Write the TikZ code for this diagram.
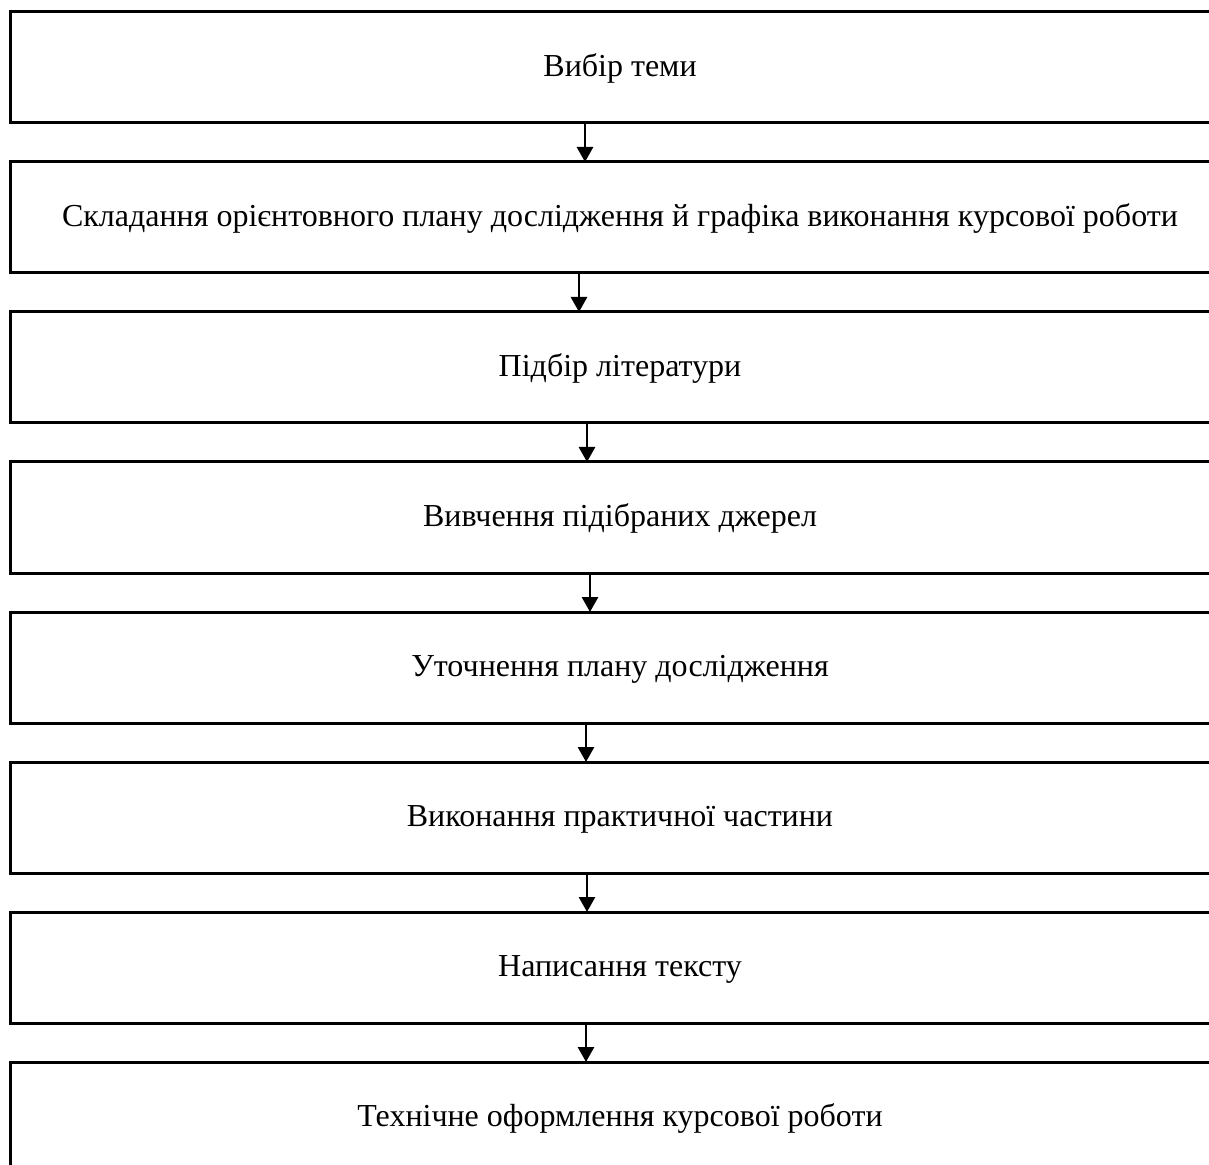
\documentclass[tikz,border=0pt]{standalone}
\usepackage{fontspec}
\setmainfont{Liberation Serif}
\usepackage{tikz}
\usetikzlibrary{arrows.meta, positioning}

\begin{document}
\begin{tikzpicture}[
        x=0.5pt, y=-0.5pt,
        node distance=19.5pt,
        stage/.style={draw, line width=1.5pt, outer sep=0pt, minimum width=610pt, minimum height=55.5pt, inner sep=0pt, text height=12pt, text depth=3pt, font=\fontsize{16pt}{19pt}\selectfont},
        flow/.style={line width=1.4pt, -{Triangle[width=8pt, length=7.5pt]}}
    ]
    \useasboundingbox (0,0) rectangle (1209,1165);
    \clip (0,0) rectangle (1209,1165);
    \node[stage] (b1) at (620,67.5) {Вибір теми};
    \node[stage, below=of b1] (b2) {Складання орієнтовного плану дослідження й графіка виконання курсової роботи};
    \node[stage, below=of b2] (b3) {Підбір літератури};
    \node[stage, below=of b3] (b4) {Вивчення підібраних джерел};
    \node[stage, below=of b4] (b5) {Уточнення плану дослідження};
    \node[stage, below=of b5] (b6) {Виконання практичної частини};
    \node[stage, below=of b6] (b7) {Написання тексту};
    \node[stage, below=of b7] (b8) {Технічне оформлення курсової роботи};
    % arrows between the stages
    \foreach \a/\b/\x in {b1/b2/585, b2/b3/579, b3/b4/587, b4/b5/590, b5/b6/586, b6/b7/587, b7/b8/586}
        \draw[flow] (\a.south -| \x,0) -- (\b.north -| \x,0);
\end{tikzpicture}
\end{document}
